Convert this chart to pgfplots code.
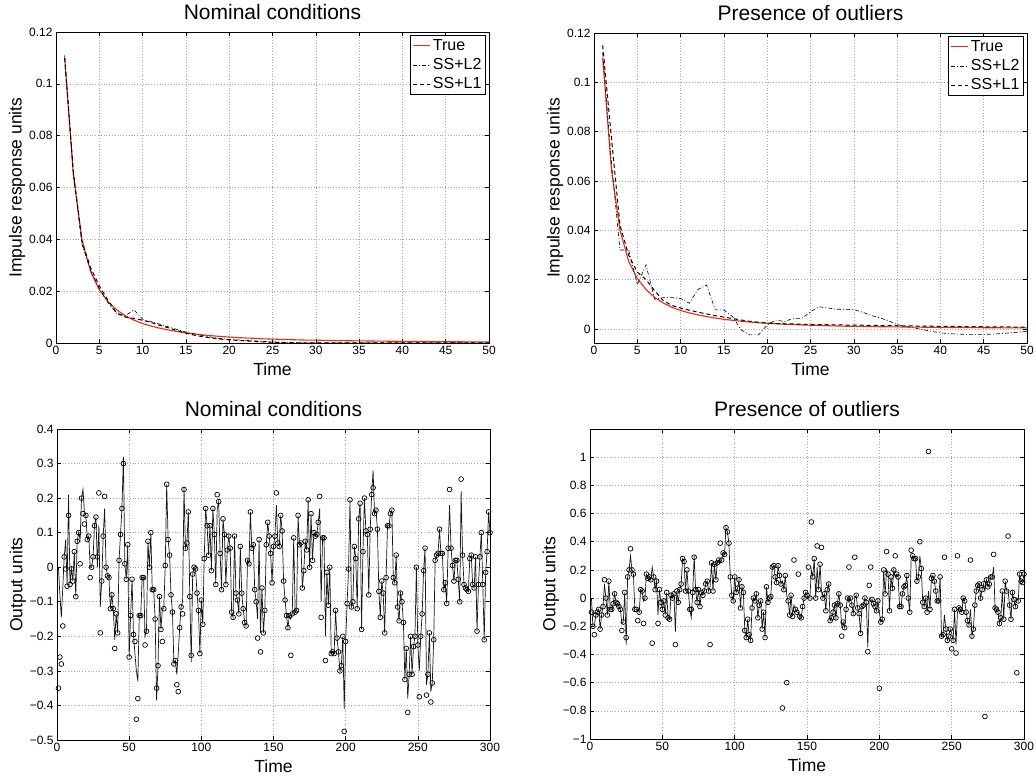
\documentclass[border=0pt]{standalone}
\usepackage{fontspec}
\setmainfont{Liberation Sans}
\usepackage{pgfplots}
\pgfplotsset{compat=1.18}
\usepackage{pgfplotstable}

\definecolor{truered}{RGB}{240,40,20}

% impulse responses: t, true, SS+L2, SS+L1
\pgfplotstableread{
t tru l2 l1
1 0.110 0.111 0.110
2 0.0650 0.066 0.066
3 0.0400 0.038 0.039
4 0.0275 0.028 0.029
5 0.0205 0.021 0.022
6 0.0160 0.0155 0.0165
7 0.0128 0.0115 0.0115
8 0.0105 0.0105 0.0100
9 0.0088 0.0128 0.0095
10 0.0075 0.0092 0.0088
11 0.0065 0.0082 0.0079
12 0.0057 0.0072 0.0068
13 0.0050 0.0062 0.0058
14 0.0044 0.0052 0.0048
15 0.0039 0.0042 0.0038
16 0.0035 0.0035 0.0030
17 0.0031 0.0028 0.0024
18 0.0028 0.0022 0.0019
19 0.0025 0.0017 0.0015
20 0.0023 0.0014 0.0012
21 0.0021 0.0012 0.0010
22 0.0019 0.0010 0.0008
23 0.0018 0.0008 0.0006
24 0.0016 0.0006 0.0004
25 0.0015 0.0004 0.0003
26 0.0014 0.0003 0.0002
27 0.0013 0.0002 0.0001
28 0.0012 0.0001 0.0
29 0.0011 0.0 0.0
30 0.0011 0.0 0.0
31 0.00100 0.0 0.0
32 0.00095 0.0 0.0
33 0.00090 0.0 0.0
34 0.00086 0.0 0.0
35 0.00082 0.0 0.0
36 0.00078 0.0 0.0
37 0.00074 0.0 0.0
38 0.00070 0.0 0.0
39 0.00067 0.0 0.0
40 0.00064 0.0 0.0
41 0.00061 0.0 0.0
42 0.00058 0.0 0.0
43 0.00055 0.0 0.0
44 0.00053 0.0 0.0
45 0.00050 0.0 0.0
46 0.00048 0.0 0.0
47 0.00046 0.0 0.0
48 0.00044 0.0 0.0
49 0.00042 0.0 0.0
50 0.00040 0.0 0.0
}\impnom

\pgfplotstableread{
t tru l2 l1
1 0.110 0.112 0.115
2 0.0650 0.068 0.078
3 0.0400 0.032 0.042
4 0.0275 0.032 0.030
5 0.0205 0.018 0.023
6 0.0160 0.026 0.020
7 0.0128 0.012 0.0155
8 0.0105 0.0127 0.0115
9 0.0088 0.0127 0.0095
10 0.0075 0.0124 0.0085
11 0.0065 0.0104 0.0076
12 0.0057 0.0160 0.0068
13 0.0050 0.0178 0.0061
14 0.0044 0.0077 0.0054
15 0.0039 0.0077 0.0048
16 0.0035 0.0050 0.0042
17 0.0031 -0.0004 0.0036
18 0.0028 -0.0024 0.0031
19 0.0025 -0.0024 0.0027
20 0.0023 0.0016 0.0024
21 0.0021 0.0036 0.0022
22 0.0019 0.0030 0.0021
23 0.0018 0.0043 0.0020
24 0.0016 0.0043 0.0019
25 0.0015 0.0070 0.0018
26 0.0014 0.0090 0.0017
27 0.0013 0.0085 0.0017
28 0.0012 0.0080 0.0016
29 0.0011 0.0080 0.0016
30 0.0011 0.0078 0.0015
31 0.00100 0.0068 0.0015
32 0.00095 0.0055 0.0014
33 0.00090 0.0045 0.0014
34 0.00086 0.0033 0.0013
35 0.00082 0.0018 0.0013
36 0.00078 0.0010 0.0012
37 0.00074 0.0004 0.0012
38 0.00070 -0.0003 0.0011
39 0.00067 -0.0010 0.0011
40 0.00064 -0.0016 0.0010
41 0.00061 -0.0019 0.0010
42 0.00058 -0.0021 0.0010
43 0.00055 -0.0022 0.0009
44 0.00053 -0.0022 0.0009
45 0.00050 -0.0022 0.0009
46 0.00048 -0.0021 0.0008
47 0.00046 -0.0019 0.0008
48 0.00044 -0.0016 0.0008
49 0.00042 -0.0013 0.0007
50 0.00040 -0.0010 0.0007
}\impout

% output data, nominal: c = measured (circles), l = line
\pgfplotstableread[row sep=\\]{
c l\\
-0.35 0.0\\ -0.26 -0.08\\ -0.28 -0.145\\ -0.17 -0.06\\ 0.03 0.03\\ -0.005 0.08\\ -0.055 -0.05\\ 0.15 0.21\\ -0.05 -0.05\\ -0.005 -0.005\\
-0.04 -0.04\\ 0.045 0.045\\ -0.085 -0.085\\ 0.075 0.075\\ 0.1 0.1\\ 0.01 0.08\\ 0.2 0.2\\ 0.155 0.225\\ 0.125 0.16\\ 0.15 0.15\\
0.08 0.08\\ 0.09 0.09\\ -0.03 0.0\\ 0.0 0.0\\ 0.03 0.03\\ 0.12 0.12\\ 0.145 0.145\\ 0.03 0.0\\ 0.215 0.12\\ -0.19 -0.115\\
-0.04 -0.04\\ 0.09 0.09\\ 0.205 0.17\\ 0.0 0.0\\ -0.025 -0.025\\ -0.03 -0.03\\ -0.12 -0.12\\ -0.08 -0.08\\ -0.12 -0.12\\ -0.235 -0.21\\
-0.135 -0.135\\ -0.19 -0.19\\ 0.02 0.02\\ 0.095 0.095\\ 0.17 0.17\\ 0.3 0.32\\ 0.01 0.01\\ -0.035 -0.035\\ 0.065 0.065\\ -0.26 -0.26\\
-0.14 -0.14\\ -0.035 -0.035\\ -0.195 -0.195\\ -0.215 -0.25\\ -0.44 -0.3\\ -0.38 -0.33\\ -0.14 -0.14\\ -0.14 -0.14\\ -0.03 -0.03\\ -0.03 -0.03\\
-0.225 -0.2\\ -0.185 -0.185\\ 0.075 0.075\\ 0.0 0.0\\ 0.1 0.1\\ -0.065 -0.065\\ -0.065 -0.065\\ -0.15 -0.15\\ -0.35 -0.385\\ -0.285 -0.285\\
-0.085 -0.085\\ -0.18 -0.18\\ -0.215 -0.12\\ -0.12 -0.12\\ 0.005 0.005\\ 0.24 0.24\\ 0.08 0.08\\ 0.035 0.035\\ -0.08 -0.08\\ -0.13 -0.13\\
-0.28 -0.28\\ -0.27 -0.27\\ -0.34 -0.31\\ -0.36 -0.25\\ -0.175 -0.175\\ -0.115 -0.115\\ -0.135 -0.1\\ 0.225 0.23\\ 0.055 0.055\\ 0.07 0.07\\
0.16 0.16\\ -0.085 -0.085\\ -0.255 -0.275\\ -0.02 -0.02\\ 0.0 0.0\\ -0.005 -0.005\\ -0.075 -0.075\\ -0.125 -0.125\\ -0.25 -0.25\\ -0.095 -0.095\\
-0.165 -0.165\\ 0.025 0.025\\ 0.17 0.17\\ 0.12 0.12\\ 0.035 0.035\\ 0.12 0.12\\ -0.01 -0.01\\ 0.17 0.17\\ 0.095 0.095\\ -0.05 -0.05\\
0.21 0.17\\ 0.19 0.19\\ 0.04 0.04\\ -0.065 -0.065\\ 0.14 0.14\\ 0.095 0.095\\ -0.05 -0.05\\ 0.05 0.05\\ 0.09 0.09\\ 0.055 0.055\\
-0.13 -0.13\\ -0.145 -0.145\\ 0.09 0.09\\ -0.075 -0.075\\ -0.095 -0.095\\ -0.135 -0.135\\ 0.06 0.06\\ -0.075 -0.075\\ -0.12 -0.12\\ -0.16 -0.16\\
-0.17 -0.17\\ 0.02 0.02\\ 0.01 0.01\\ 0.16 0.16\\ 0.055 0.055\\ 0.065 0.065\\ -0.065 -0.065\\ -0.1 -0.1\\ -0.205 -0.15\\ 0.08 0.08\\
-0.245 -0.19\\ -0.06 -0.06\\ -0.19 -0.19\\ -0.125 -0.125\\ 0.065 0.065\\ 0.13 0.13\\ 0.09 0.09\\ 0.04 0.04\\ -0.045 -0.045\\ 0.06 0.06\\
0.09 0.09\\ 0.215 0.18\\ 0.07 0.07\\ 0.06 0.06\\ 0.15 0.15\\ 0.105 0.105\\ -0.04 -0.04\\ -0.095 -0.095\\ -0.14 -0.14\\ -0.175 -0.175\\
-0.14 -0.14\\ -0.255 -0.15\\ -0.135 -0.135\\ 0.085 0.085\\ -0.13 -0.13\\ -0.125 -0.125\\ 0.15 0.15\\ 0.065 0.065\\ 0.07 0.07\\ -0.06 -0.06\\
-0.01 -0.01\\ 0.075 0.075\\ 0.05 0.05\\ 0.195 0.195\\ 0.0 0.0\\ 0.155 0.155\\ 0.02 0.02\\ 0.1 0.1\\ 0.09 0.09\\ 0.095 0.095\\
0.13 0.13\\ 0.205 0.17\\ -0.145 -0.1\\ 0.085 0.085\\ 0.085 0.085\\ -0.27 -0.2\\ -0.015 -0.015\\ -0.11 -0.11\\ 0.0 0.0\\ -0.25 -0.25\\
-0.245 -0.245\\ -0.25 -0.25\\ -0.125 -0.125\\ -0.205 -0.205\\ -0.245 -0.245\\ -0.3 -0.3\\ -0.285 -0.285\\ -0.2 -0.2\\ -0.475 -0.41\\ -0.215 -0.215\\
-0.105 -0.105\\ -0.005 -0.005\\ 0.195 0.195\\ -0.115 -0.115\\ -0.1 -0.1\\ 0.06 0.06\\ 0.025 0.025\\ -0.12 -0.12\\ 0.14 0.14\\ 0.185 0.185\\
-0.18 -0.18\\ 0.045 0.045\\ 0.2 0.2\\ 0.105 0.105\\ 0.095 0.095\\ -0.08 -0.08\\ 0.11 0.11\\ 0.21 0.21\\ 0.23 0.28\\ 0.155 0.155\\
0.165 0.165\\ 0.11 0.11\\ -0.07 -0.07\\ -0.145 -0.145\\ -0.04 -0.04\\ -0.075 -0.075\\ -0.19 -0.19\\ -0.03 -0.03\\ 0.12 0.12\\ 0.12 0.12\\
0.155 0.155\\ 0.165 0.165\\ -0.03 -0.03\\ -0.045 -0.045\\ 0.035 0.035\\ -0.115 -0.115\\ -0.155 -0.155\\ -0.075 -0.075\\ -0.1 -0.1\\ -0.16 -0.16\\
-0.325 -0.325\\ -0.235 -0.235\\ -0.42 -0.38\\ -0.31 -0.31\\ -0.2 -0.2\\ -0.31 -0.31\\ -0.23 -0.23\\ -0.2 -0.2\\ 0.0 0.0\\ -0.225 -0.225\\
-0.375 -0.3\\ -0.2 -0.2\\ -0.135 -0.135\\ -0.01 -0.01\\ 0.055 0.055\\ -0.37 -0.34\\ -0.31 -0.31\\ -0.19 -0.19\\ -0.39 -0.36\\ -0.335 -0.335\\
-0.21 -0.21\\ 0.02 0.02\\ 0.035 0.035\\ 0.04 0.04\\ 0.11 0.11\\ 0.04 0.04\\ 0.04 0.04\\ -0.065 -0.065\\ -0.045 -0.045\\ -0.105 -0.105\\
0.055 0.055\\ 0.225 0.18\\ 0.055 0.055\\ 0.005 0.005\\ -0.04 -0.04\\ 0.02 0.02\\ 0.02 0.02\\ -0.035 -0.035\\ -0.1 -0.1\\ 0.255 0.22\\
0.035 0.035\\ -0.05 -0.05\\ -0.06 -0.06\\ -0.065 -0.065\\ -0.07 -0.07\\ 0.025 0.025\\ 0.035 0.035\\ -0.05 -0.05\\ -0.06 -0.06\\ 0.03 0.03\\
-0.185 -0.185\\ -0.05 -0.05\\ 0.03 0.03\\ 0.1 0.1\\ -0.05 -0.05\\ -0.21 -0.21\\ -0.015 -0.015\\ 0.045 0.045\\ 0.16 0.16\\ 0.1 0.1\\
}\outnom

% output data, outliers
\pgfplotstableread[row sep=\\]{
c l\\
-0.1 0.0\\ -0.2 -0.2\\ -0.26 -0.2\\ -0.12 -0.12\\ -0.1 -0.1\\ -0.08 -0.08\\ -0.22 -0.22\\ -0.12 -0.12\\ -0.06 -0.06\\ 0.13 0.1\\
0.0 0.0\\ -0.12 -0.12\\ 0.12 0.12\\ -0.08 -0.08\\ -0.08 -0.08\\ -0.04 -0.04\\ 0.03 0.03\\ -0.03 -0.03\\ -0.04 -0.04\\ -0.06 -0.06\\
-0.08 -0.08\\ -0.23 -0.18\\ -0.17 -0.17\\ 0.04 0.04\\ -0.28 -0.33\\ 0.15 0.15\\ 0.2 0.2\\ 0.35 0.3\\ 0.2 0.2\\ 0.17 0.17\\
-0.08 -0.08\\ -0.08 -0.08\\ -0.16 -0.08\\ -0.1 -0.1\\ 0.06 0.06\\ 0.05 0.05\\ -0.18 -0.02\\ 0.0 0.0\\ 0.17 0.17\\ 0.14 0.14\\
0.15 0.15\\ 0.13 0.13\\ -0.32 0.22\\ 0.15 0.15\\ 0.06 0.06\\ 0.12 0.12\\ -0.18 -0.12\\ 0.06 0.06\\ -0.03 -0.03\\ -0.08 -0.08\\
-0.02 -0.02\\ -0.12 -0.12\\ 0.04 0.04\\ -0.14 -0.14\\ -0.15 -0.15\\ 0.02 0.02\\ 0.0 0.0\\ 0.03 0.03\\ -0.33 -0.24\\ 0.05 0.05\\
-0.03 -0.03\\ 0.06 0.06\\ 0.1 0.1\\ 0.28 0.28\\ 0.26 0.26\\ 0.05 0.05\\ 0.2 0.2\\ 0.05 0.05\\ -0.08 -0.08\\ -0.08 -0.14\\
0.04 0.04\\ 0.29 0.3\\ 0.06 0.06\\ -0.03 -0.03\\ 0.06 0.06\\ -0.06 -0.06\\ 0.04 0.04\\ 0.02 0.02\\ 0.05 0.05\\ 0.1 0.1\\
0.12 0.12\\ 0.05 0.05\\ -0.33 0.08\\ 0.25 0.25\\ 0.05 0.05\\ 0.24 0.24\\ 0.13 0.13\\ 0.25 0.25\\ 0.27 0.27\\ 0.39 0.25\\
0.27 0.27\\ 0.32 0.32\\ 0.31 0.31\\ 0.5 0.5\\ 0.47 0.47\\ 0.39 0.39\\ 0.15 0.15\\ 0.02 0.02\\ -0.02 -0.02\\ 0.15 0.15\\
0.04 0.04\\ 0.07 0.07\\ 0.13 0.13\\ -0.07 -0.07\\ 0.08 0.08\\ 0.04 0.04\\ -0.23 -0.23\\ -0.28 -0.28\\ -0.15 -0.15\\ -0.26 -0.26\\
-0.3 -0.3\\ -0.07 -0.07\\ 0.0 0.0\\ -0.02 -0.02\\ 0.03 0.03\\ -0.14 -0.14\\ -0.05 -0.05\\ -0.02 -0.02\\ -0.22 -0.22\\ -0.1 -0.1\\
-0.28 -0.28\\ 0.08 0.08\\ -0.03 -0.03\\ 0.0 0.0\\ 0.01 0.01\\ 0.22 0.22\\ 0.23 0.23\\ 0.15 0.15\\ 0.11 0.11\\ 0.23 0.23\\
0.16 0.16\\ 0.1 0.1\\ -0.78 0.12\\ 0.06 0.06\\ 0.16 0.16\\ -0.6 0.02\\ -0.02 -0.02\\ -0.12 -0.12\\ 0.02 0.02\\ -0.13 -0.13\\
0.27 -0.05\\ -0.08 -0.08\\ -0.1 -0.1\\ 0.17 -0.1\\ -0.13 -0.13\\ -0.14 -0.14\\ -0.06 -0.06\\ 0.0 0.0\\ 0.04 0.04\\ 0.02 0.02\\
0.22 0.0\\ 0.0 0.0\\ 0.54 0.2\\ 0.15 0.15\\ 0.28 0.28\\ 0.0 0.0\\ 0.37 0.22\\ 0.06 0.06\\ 0.24 0.24\\ 0.36 0.05\\
0.0 0.0\\ 0.03 0.03\\ -0.09 -0.09\\ 0.06 0.06\\ 0.1 0.1\\ -0.16 -0.16\\ -0.14 -0.14\\ -0.1 -0.1\\ -0.05 -0.05\\ -0.14 -0.14\\
-0.04 -0.04\\ 0.03 0.03\\ -0.05 -0.05\\ -0.27 -0.2\\ -0.17 -0.17\\ -0.21 -0.21\\ -0.08 -0.08\\ 0.0 0.0\\ 0.22 -0.03\\ 0.0 0.0\\
-0.05 -0.05\\ -0.11 -0.11\\ 0.29 0.0\\ 0.02 0.02\\ -0.07 -0.07\\ -0.11 -0.11\\ -0.25 -0.25\\ -0.06 -0.06\\ -0.05 -0.05\\ 0.0 0.0\\
-0.03 -0.03\\ -0.38 -0.35\\ 0.09 0.0\\ 0.22 -0.02\\ -0.01 -0.01\\ -0.04 -0.04\\ -0.06 -0.06\\ -0.09 -0.09\\ -0.02 -0.02\\ -0.64 -0.1\\
-0.17 -0.17\\ -0.15 -0.15\\ 0.2 0.2\\ 0.03 0.03\\ 0.33 0.2\\ 0.17 0.17\\ -0.09 -0.09\\ 0.15 0.15\\ 0.07 0.07\\ 0.2 0.2\\
0.3 0.15\\ 0.17 0.17\\ 0.15 0.15\\ -0.06 -0.06\\ -0.06 -0.06\\ 0.03 0.03\\ 0.08 0.08\\ 0.09 0.09\\ 0.16 0.16\\ 0.0 0.0\\
-0.1 -0.1\\ 0.34 0.28\\ 0.3 0.3\\ 0.28 0.28\\ 0.28 0.28\\ 0.12 0.12\\ 0.15 0.15\\ 0.4 0.3\\ 0.21 0.21\\ -0.03 -0.03\\
-0.06 -0.06\\ 0.0 0.0\\ -0.1 -0.1\\ 1.04 0.05\\ -0.08 -0.08\\ 0.14 0.14\\ 0.16 0.16\\ 0.12 0.12\\ 0.05 0.05\\ -0.02 -0.02\\
-0.02 -0.02\\ 0.15 0.15\\ -0.27 -0.27\\ -0.26 -0.26\\ 0.29 -0.12\\ -0.22 -0.22\\ -0.3 -0.3\\ -0.27 -0.27\\ -0.22 -0.22\\ -0.36 -0.25\\
-0.3 -0.3\\ -0.08 -0.08\\ -0.39 -0.33\\ 0.3 -0.1\\ -0.07 -0.07\\ -0.08 -0.08\\ -0.1 -0.1\\ 0.0 0.0\\ -0.02 -0.02\\ -0.1 -0.1\\
-0.16 -0.16\\ -0.19 -0.19\\ 0.27 -0.08\\ -0.27 -0.27\\ -0.22 -0.22\\ -0.05 -0.05\\ 0.05 0.05\\ 0.09 0.09\\ 0.1 0.1\\ 0.0 0.0\\
0.06 0.06\\ 0.1 0.1\\ -0.84 0.05\\ 0.13 0.13\\ 0.08 0.08\\ 0.1 0.1\\ 0.15 0.15\\ 0.15 0.15\\ 0.31 0.22\\ -0.07 -0.07\\
-0.08 -0.08\\ -0.1 -0.1\\ -0.18 -0.18\\ -0.14 -0.14\\ 0.05 0.05\\ -0.15 -0.15\\ 0.12 0.12\\ 0.05 0.05\\ 0.44 0.05\\ -0.05 -0.05\\
-0.15 -0.15\\ 0.04 0.04\\ -0.01 -0.01\\ -0.06 -0.06\\ -0.53 0.0\\ -0.02 -0.02\\ 0.17 0.17\\ 0.12 0.12\\ 0.11 0.11\\ 0.17 0.17\\
}\outout

\pgfplotsset{
  mlab/.style={
    scale only axis,
    axis line style={black, line width=0.8pt},
    tick align=inside,
    major tick length=4pt,
    tick style={black, line width=0.6pt},
    grid=major,
    major grid style={gray!70, dash pattern=on 0.6pt off 2.2pt, line width=0.6pt},
    ticklabel style={font=\fontsize{12}{14}\selectfont},
    label style={font=\fontsize{17.5}{20}\selectfont},
    title style={font=\fontsize{21}{24}\selectfont, yshift=3pt},
    xlabel=Time,
    xlabel style={yshift=-1pt},
    ylabel style={yshift=-3pt},
    clip=true,
  },
  imp/.style={
    mlab,
    xmin=0, xmax=50,
    xtick={0,5,...,50},
    ytick={0,0.02,0.04,0.06,0.08,0.1,0.12},
    yticklabels={0,0.02,0.04,0.06,0.08,0.1,0.12},
    xticklabels={0,5,10,15,20,25,30,35,40,45,50},
    ylabel={Impulse response units},
    legend style={at={(1,1)}, anchor=north east, xshift=-3pt, yshift=-3pt,
      draw=black, line width=1.2pt, font=\fontsize{16}{18}\selectfont,
      inner sep=2pt, row sep=2.5pt},
    legend cell align=left,
  },
  outp/.style={
    mlab,
    xmin=0, xmax=300,
    xtick={0,50,...,300},
    xticklabels={0,50,100,150,200,250,300},
    ylabel={Output units},
  },
}

\begin{document}
\begin{tikzpicture}[x=1pt,y=1pt]
\path[use as bounding box] (0,0) rectangle (1036,776);

% top left
\begin{axis}[imp, at={(56pt,433pt)}, anchor=south west, width=433pt, height=311pt,
  ymin=0, ymax=0.12, title={Nominal conditions}]
\addplot[truered, line width=1.1pt] table[x=t, y=tru] {\impnom};
\addlegendentry{True}
\addplot[black, line width=0.6pt, dash pattern=on 4pt off 2pt on 1pt off 2pt] table[x=t, y=l2] {\impnom};
\addlegendentry{SS+L2}
\addplot[black, line width=1pt, dash pattern=on 4pt off 3pt] table[x=t, y=l1] {\impnom};
\addlegendentry{SS+L1}
\end{axis}

% top right
\begin{axis}[imp, at={(594pt,433pt)}, anchor=south west, width=433pt, height=310pt,
  ymin=-0.0057, ymax=0.12, title={Presence of outliers}]
\addplot[truered, line width=1.1pt] table[x=t, y=tru] {\impout};
\addlegendentry{True}
\addplot[black, line width=0.6pt, dash pattern=on 4pt off 2pt on 1pt off 2pt] table[x=t, y=l2] {\impout};
\addlegendentry{SS+L2}
\addplot[black, line width=1pt, dash pattern=on 4pt off 3pt] table[x=t, y=l1] {\impout};
\addlegendentry{SS+L1}
\end{axis}

% bottom left
\begin{axis}[outp, at={(57pt,36pt)}, anchor=south west, width=433pt, height=311pt,
  ymin=-0.5, ymax=0.4,
  ytick={-0.5,-0.4,-0.3,-0.2,-0.1,0,0.1,0.2,0.3,0.4},
  yticklabels={−0.5,−0.4,−0.3,−0.2,−0.1,0,0.1,0.2,0.3,0.4},
  title={Nominal conditions}]
\addplot[black!90, line width=0.7pt] table[x expr=\coordindex+1, y=l] {\outnom};
\addplot[only marks, mark=o, mark size=2.4pt, black, mark options={line width=0.7pt}] table[x expr=\coordindex+1, y=c] {\outnom};
\end{axis}

% bottom right
\begin{axis}[outp, at={(590pt,37pt)}, anchor=south west, width=434pt, height=310pt,
  ymin=-1, ymax=1.2,
  ytick={-1,-0.8,-0.6,-0.4,-0.2,0,0.2,0.4,0.6,0.8,1},
  yticklabels={−1,−0.8,−0.6,−0.4,−0.2,0,0.2,0.4,0.6,0.8,1},
  title={Presence of outliers}]
\addplot[black!90, line width=0.7pt] table[x expr=\coordindex+1, y=l] {\outout};
\addplot[only marks, mark=o, mark size=2.4pt, black, mark options={line width=0.7pt}] table[x expr=\coordindex+1, y=c] {\outout};
\end{axis}
\end{tikzpicture}
\end{document}
